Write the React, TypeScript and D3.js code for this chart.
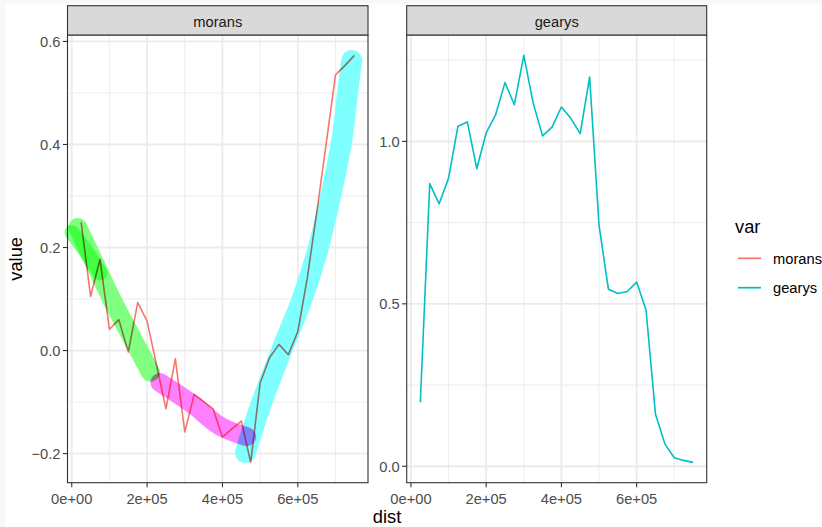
import React from 'react';
import * as d3 from 'd3';

// distance bins
const dist = [
  25000, 50000, 75000, 100000, 125000, 150000, 175000, 200000, 225000, 250000,
  275000, 300000, 325000, 350000, 375000, 400000, 425000, 450000, 475000, 500000,
  525000, 550000, 575000, 600000, 625000, 650000, 675000, 700000, 725000, 750000,
];

const morans = [
  0.249, 0.105, 0.177, 0.041, 0.06, -0.003, 0.093, 0.057, -0.028, -0.113,
  -0.016, -0.158, -0.085, -0.099, -0.113, -0.168, -0.152, -0.137, -0.217, -0.063,
  -0.014, 0.012, -0.008, 0.037, 0.14, 0.267, 0.4, 0.535, 0.553, 0.573,
];

const gearys = [
  0.197, 0.87, 0.808, 0.887, 1.047, 1.06, 0.916, 1.026, 1.082, 1.181,
  1.113, 1.265, 1.118, 1.017, 1.044, 1.106, 1.071, 1.024, 1.198, 0.742,
  0.545, 0.532, 0.538, 0.567, 0.481, 0.161, 0.069, 0.026, 0.018, 0.012,
];

const xTicks = [0, 200000, 400000, 600000];
const xTickLabels = ['0e+00', '2e+05', '4e+05', '6e+05'];
const xMinor = [100000, 300000, 500000, 700000];
const moransTicks = [-0.2, 0, 0.2, 0.4, 0.6];
const moransMinor = [-0.1, 0.1, 0.3, 0.5];
const gearysTicks = [0, 0.5, 1.0];
const gearysMinor = [0.25, 0.75, 1.25];

// highlighter annotations on the morans panel: [dist, value]
const greenBand: [number, number][] = [
  [16000, 0.239], [60000, 0.171], [108000, 0.097], [178000, 0.0], [209000, -0.042],
];
const greenBand2: [number, number][] = [[800, 0.229], [40000, 0.19], [75000, 0.151]];
const magentaBand: [number, number][] = [
  [234000, -0.062], [322000, -0.105], [394000, -0.147], [464000, -0.167],
];
const cyanBand: [number, number][] = [
  [461000, -0.198], [500000, -0.109], [561000, 0.008], [611000, 0.099], [653000, 0.196],
  [685000, 0.293], [717000, 0.41], [733000, 0.507], [743000, 0.563],
];

const seriesNames = ['morans', 'gearys'];
const seriesColors = ['#F8766D', '#00BFC4'];

const FONT = '"Liberation Sans", Arial, sans-serif';
const TOP = 35;
const BOTTOM = 482.7;
const STRIP_TOP = 5.7;

const expand = (ext: [number, number]): [number, number] => {
  const p = (ext[1] - ext[0]) * 0.05;
  return [ext[0] - p, ext[1] + p];
};

const xDomain = expand(d3.extent(dist) as [number, number]);
const yFmt = d3.format('.1f');

type PanelProps = {
  x0: number;
  x1: number;
  values: number[];
  color: string;
  ticks: number[];
  minor: number[];
  title: string;
  bands?: { pts: [number, number][]; color: string; width: number }[];
};

const Panel = ({ x0, x1, values, color, ticks, minor, title, bands }: PanelProps) => {
  const x = d3.scaleLinear().domain(xDomain).range([x0, x1]);
  const y = d3
    .scaleLinear()
    .domain(expand(d3.extent(values) as [number, number]))
    .range([BOTTOM, TOP]);
  const line = d3
    .line<number>()
    .x((_, i) => x(dist[i]))
    .y((d) => y(d));
  const bandLine = d3
    .line<[number, number]>()
    .x((d) => x(d[0]))
    .y((d) => y(d[1]))
    .curve(d3.curveCatmullRom);

  return (
    <g>
      <rect x={x0} y={TOP} width={x1 - x0} height={BOTTOM - TOP} fill="#fff" />
      {minor.map((t) => (
        <line key={'ym' + t} x1={x0} x2={x1} y1={y(t)} y2={y(t)} stroke="#EBEBEB" strokeWidth={0.9} />
      ))}
      {xMinor.map((t) => (
        <line key={'xm' + t} x1={x(t)} x2={x(t)} y1={TOP} y2={BOTTOM} stroke="#EBEBEB" strokeWidth={0.9} />
      ))}
      {ticks.map((t) => (
        <line key={'y' + t} x1={x0} x2={x1} y1={y(t)} y2={y(t)} stroke="#EBEBEB" strokeWidth={1.8} />
      ))}
      {xTicks.map((t) => (
        <line key={'x' + t} x1={x(t)} x2={x(t)} y1={TOP} y2={BOTTOM} stroke="#EBEBEB" strokeWidth={1.8} />
      ))}
      <g style={{ isolation: 'isolate' }}>
        <path d={line(values) ?? ''} fill="none" stroke={color} strokeWidth={1.6} strokeLinejoin="round" />
        {bands?.map((b, i) => (
          <path
            key={i}
            d={bandLine(b.pts) ?? ''}
            fill="none"
            stroke={b.color}
            strokeWidth={b.width}
            strokeLinecap="round"
            strokeLinejoin="round"
            style={{ mixBlendMode: 'multiply' }}
          />
        ))}
      </g>
      <rect x={x0} y={TOP} width={x1 - x0} height={BOTTOM - TOP} fill="none" stroke="#333333" strokeWidth={1.1} />
      <rect x={x0} y={STRIP_TOP} width={x1 - x0} height={TOP - STRIP_TOP} fill="#D9D9D9" stroke="#333333" strokeWidth={1.1} />
      <text x={(x0 + x1) / 2} y={26.5} textAnchor="middle" fontSize={14.7} fill="#1A1A1A" fontFamily={FONT}>
        {title}
      </text>
      {ticks.map((t) => (
        <g key={'yt' + t}>
          <line x1={x0 - 4.6} x2={x0} y1={y(t)} y2={y(t)} stroke="#333333" strokeWidth={1.1} />
          <text x={x0 - 7} y={y(t)} dy="0.36em" textAnchor="end" fontSize={14.7} fill="#4D4D4D" fontFamily={FONT}>
            {yFmt(t)}
          </text>
        </g>
      ))}
      {xTicks.map((t, i) => (
        <g key={'xt' + t}>
          <line x1={x(t)} x2={x(t)} y1={BOTTOM} y2={BOTTOM + 4.6} stroke="#333333" strokeWidth={1.1} />
          <text x={x(t)} y={503.5} textAnchor="middle" fontSize={14.7} fill="#4D4D4D" fontFamily={FONT}>
            {xTickLabels[i]}
          </text>
        </g>
      ))}
    </g>
  );
};

export default function App() {
  const W = 822;
  const H = 527;
  return (
    <svg width={W} height={H} style={{ display: 'block', position: 'absolute', left: 0, top: 0 }}>
      <rect width={W} height={H} fill="#F8F8F8" />
      <rect x={5.5} y={3.5} width={W} height={H} fill="#fff" />
      <Panel
        x0={67.5}
        x1={368}
        values={morans}
        color={seriesColors[0]}
        ticks={moransTicks}
        minor={moransMinor}
        title="morans"
        bands={[
          { pts: greenBand, color: '#80FF80', width: 19 },
          { pts: greenBand2, color: '#80FF80', width: 15 },
          { pts: magentaBand, color: '#FF80FF', width: 19 },
          { pts: cyanBand, color: '#80FFFF', width: 21 },
        ]}
      />
      <Panel
        x0={406.7}
        x1={706.7}
        values={gearys}
        color={seriesColors[1]}
        ticks={gearysTicks}
        minor={gearysMinor}
        title="gearys"
      />
      <text
        transform={`translate(21.5, ${(TOP + BOTTOM) / 2}) rotate(-90)`}
        textAnchor="middle"
        fontSize={18.3}
        fill="#000"
        fontFamily={FONT}
      >
        value
      </text>
      <text x={387} y={523} textAnchor="middle" fontSize={18.3} fill="#000" fontFamily={FONT}>
        dist
      </text>
      <text x={735} y={233.3} fontSize={18.3} fill="#000" fontFamily={FONT}>
        var
      </text>
      {seriesNames.map((s, i) => (
        <g key={s}>
          <line x1={738} x2={761} y1={258.3 + i * 29.4} y2={258.3 + i * 29.4} stroke={seriesColors[i]} strokeWidth={1.7} />
          <text x={773} y={263.6 + i * 29.4} fontSize={14.7} fill="#000" fontFamily={FONT}>
            {s}
          </text>
        </g>
      ))}
    </svg>
  );
}
